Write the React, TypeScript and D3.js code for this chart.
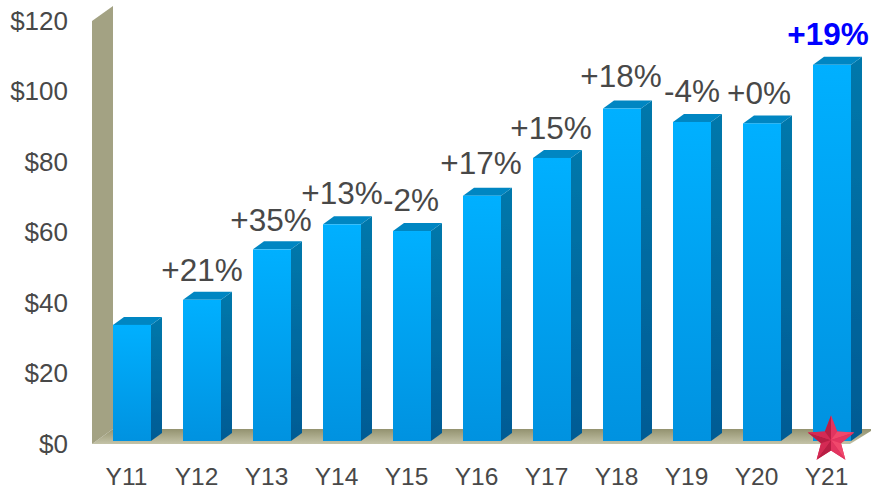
import React from "react";
import * as d3 from "d3";

const categories = ["Y11","Y12","Y13","Y14","Y15","Y16","Y17","Y18","Y19","Y20","Y21"];
const values = [32.9,40,54.3,61.4,59.5,69.5,80.2,94.2,90.4,90,106.6];
const growth = ["","+21%","+35%","+13%","-2%","+17%","+15%","+18%","-4%","+0%","+19%"];
const labelCenters = [0,202,271,342,411,481,551,621,692,759,828];
const labelYs = [0,270,220,193,200,163,128,76,91,93,34];
const ticks = [0,20,40,60,80,100,120];

const W = 871, H = 490;
const y = d3.scaleLinear().domain([0,120]).range([441,17.5]);
const x = d3.scaleBand().domain(categories).range([97,867]).paddingInner(32/70).paddingOuter(16/70);
const dx = 11, dy = 8;
const font = "'Liberation Sans', Arial, sans-serif";

const star = (cx:number, cy:number, R:number, r:number) => d3.range(10).map(i=>{
  const a = -Math.PI/2 + i*Math.PI/5; const q = i%2?r:R;
  return [cx+q*Math.cos(a), cy+q*Math.sin(a)] as [number,number];
});

export default function App(){
  const bw = x.bandwidth();
  const sx = x("Y21")! + bw/2 - 1, sy = 440;
  const pts = star(sx, sy, 24.5, 10.5);
  const line = d3.line();
  return (
    <svg width={W} height={H} style={{position:"absolute",left:0,top:0,background:"#fff"}} fontFamily={font}>
      <defs>
        <linearGradient id="front" x1="0" x2="0" y1="0" y2="1">
          <stop offset="0" stopColor="#00b0ff"/><stop offset="1" stopColor="#0092e0"/>
        </linearGradient>
        <linearGradient id="side" x1="0" x2="0" y1="0" y2="1">
          <stop offset="0" stopColor="#0078ab"/><stop offset="1" stopColor="#005b94"/>
        </linearGradient>
        <linearGradient id="floor" x1="0" x2="0" y1="0" y2="1">
          <stop offset="0" stopColor="#93926f"/><stop offset="1" stopColor="#c4c3a8"/>
        </linearGradient>
        <filter id="soft" x="-5%" y="-5%" width="110%" height="110%"><feGaussianBlur stdDeviation="0.7"/></filter>
      </defs>
      <g filter="url(#soft)">
        <polygon points={`92,444 113,429 871,429 871,431 850,444`} fill="url(#floor)"/>
        <polygon points={`92,21 113,6 113,429 92,444`} fill="#a3a283"/>
        {categories.map((c,i)=>{
          const l = x(c)!, r = l+bw, t = y(values[i]), b = y(0);
          return <g key={c}>
            <polygon points={`${r},${t} ${r+dx},${t-dy} ${r+dx},${b-dy} ${r},${b}`} fill="url(#side)"/>
            <polygon points={`${l},${t} ${l+dx},${t-dy} ${r+dx},${t-dy} ${r},${t}`} fill="#0086c2"/>
            <rect x={l} y={t} width={bw} height={b-t} fill="url(#front)"/>
          </g>;
        })}
      </g>
      {ticks.map(t=>(
        <text key={t} x={68} y={y(t)+12} textAnchor="end" fontSize={26} fill="#484848">{"$"+t}</text>
      ))}
      {categories.map(c=>(
        <text key={c} x={x(c)!+bw/2-5.5} y={485} textAnchor="middle" fontSize={24.5} fill="#484848">{c}</text>
      ))}
      {growth.map((g,i)=> g && (
        <text key={i} x={labelCenters[i]} y={labelYs[i]+11} textAnchor="middle"
          fontSize={31.5} fontWeight={i===10?"bold":"normal"} fill={i===10?"#0000ff":"#484848"}>{g}</text>
      ))}
      <path d={line(pts)!+"Z"} fill="#dc2f58"/>
      {pts.map((p,i)=>{
        const n = pts[(i+1)%10];
        return <polygon key={i} points={`${sx},${sy} ${p[0]},${p[1]} ${n[0]},${n[1]}`}
          fill={i<5 ? (i%2?"#f0486c":"#e23560") : (i%2?"#b81e44":"#d42a54")}/>;
      })}
    </svg>
  );
}
